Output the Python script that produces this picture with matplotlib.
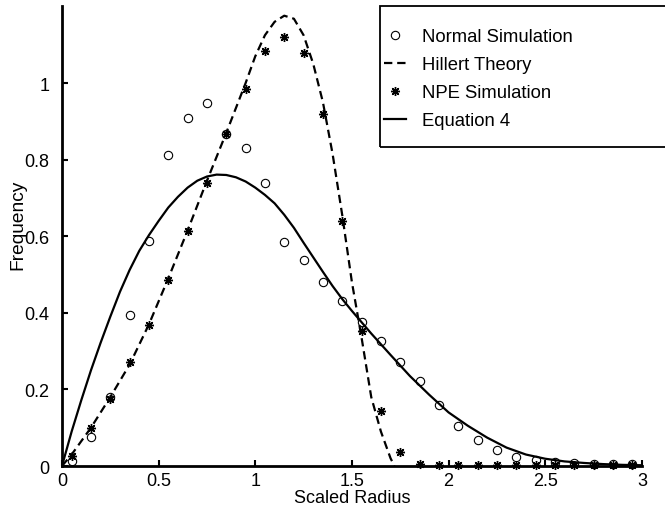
import matplotlib
matplotlib.use('Agg')
import matplotlib.pyplot as plt
from matplotlib.patches import Rectangle

plt.rcParams['font.family'] = ['Liberation Sans', 'DejaVu Sans']
plt.rcParams['lines.scale_dashes'] = False

# Normal Simulation (open circles)
normal_x = [0.05, 0.15, 0.25, 0.35, 0.45, 0.55, 0.65, 0.75, 0.85, 0.95,
            1.05, 1.15, 1.25, 1.35, 1.45, 1.55, 1.65, 1.75, 1.85, 1.95,
            2.05, 2.15, 2.25, 2.35, 2.45, 2.55, 2.65, 2.75, 2.85, 2.95]
normal_y = [0.014, 0.075, 0.18, 0.395, 0.588, 0.813, 0.909, 0.947, 0.867, 0.83,
            0.74, 0.585, 0.538, 0.481, 0.432, 0.377, 0.326, 0.272, 0.222, 0.159,
            0.105, 0.069, 0.042, 0.023, 0.016, 0.011, 0.008, 0.006, 0.005, 0.004]

# NPE Simulation (asterisks)
npe_x = normal_x
npe_y = [0.025, 0.099, 0.175, 0.271, 0.368, 0.486, 0.614, 0.74, 0.867, 0.984,
         1.083, 1.121, 1.078, 0.919, 0.64, 0.353, 0.144, 0.037, 0.006, 0.003,
         0.003, 0.003, 0.003, 0.003, 0.003, 0.003, 0.003, 0.003, 0.003, 0.003]

# Hillert Theory (dashed)
hillert_x = [0.0, 0.05, 0.15, 0.25, 0.35, 0.45, 0.55, 0.65, 0.75, 0.85, 0.95,
             1.0, 1.05, 1.1, 1.15, 1.2, 1.25, 1.3, 1.35, 1.4, 1.45, 1.5,
             1.55, 1.6, 1.65, 1.7, 1.72]
hillert_y = [0.0, 0.03, 0.1, 0.18, 0.265, 0.37, 0.49, 0.615, 0.745, 0.87, 1.0,
             1.07, 1.125, 1.16, 1.176, 1.168, 1.125, 1.05, 0.95, 0.815, 0.655, 0.48,
             0.335, 0.18, 0.09, 0.02, 0.0]

# Equation 4 (solid)
eq4_x = [0.0, 0.05, 0.1, 0.15, 0.2, 0.25, 0.3, 0.35, 0.4, 0.45, 0.5,
         0.55, 0.6, 0.65, 0.7, 0.75, 0.8, 0.85, 0.9, 0.95, 1.0,
         1.05, 1.1, 1.15, 1.2, 1.25, 1.3, 1.35, 1.4, 1.45, 1.5,
         1.6, 1.7, 1.8, 1.9, 2.0, 2.1, 2.2, 2.3, 2.4, 2.5,
         2.6, 2.7, 2.8, 2.9, 3.0]
eq4_y = [0.0, 0.09, 0.172, 0.25, 0.322, 0.39, 0.455, 0.512, 0.562, 0.603, 0.64,
         0.675, 0.703, 0.727, 0.745, 0.756, 0.761, 0.76, 0.754, 0.743, 0.727,
         0.708, 0.686, 0.656, 0.622, 0.583, 0.545, 0.507, 0.47, 0.436, 0.405,
         0.346, 0.29, 0.235, 0.186, 0.14, 0.105, 0.074, 0.048, 0.03, 0.019,
         0.012, 0.008, 0.005, 0.003, 0.002]

x_ticks = [0, 0.5, 1, 1.5, 2, 2.5, 3]
x_ticklabels = ['0', '0.5', '1', '1.5', '2', '2.5', '3']
y_ticks = [0, 0.2, 0.4, 0.6, 0.8, 1.0]
y_ticklabels = ['0', '0.2', '0.4', '0.6', '0.8', '1']

fig = plt.figure(figsize=(6.65, 5.10), dpi=100)
ax = fig.add_axes([0.0932, 0.0843, 0.872, 0.901])

ax.plot(normal_x, normal_y, linestyle='none', marker='o', markersize=6,
        markerfacecolor='none', markeredgecolor='black', markeredgewidth=0.8,
        label='Normal Simulation', clip_on=False)
ax.plot(hillert_x, hillert_y, color='black', linewidth=1.6, dashes=(6, 3.5),
        label='Hillert Theory')
ax.plot(npe_x, npe_y, linestyle='none', marker=(8, 2, 0), markersize=6.5,
        markeredgecolor='black', markeredgewidth=1.0, color='black',
        label='NPE Simulation', clip_on=False)
ax.plot(eq4_x, eq4_y, color='black', linewidth=1.6, label='Equation 4')

ax.set_xlim(0, 3)
ax.set_ylim(0, 1.2)
ax.set_xticks(x_ticks)
ax.set_xticklabels(x_ticklabels)
ax.set_yticks(y_ticks)
ax.set_yticklabels(y_ticklabels)
ax.spines['top'].set_visible(False)
ax.spines['right'].set_visible(False)
ax.spines['left'].set_linewidth(2.0)
ax.spines['bottom'].set_linewidth(2.0)
ax.tick_params(axis='both', direction='in', length=4, width=1.5, labelsize=13)
ax.tick_params(axis='y', pad=9)
ax.tick_params(axis='x', pad=4)
ax.set_xlabel('Scaled Radius', fontsize=13)
ax.set_ylabel('Frequency', fontsize=13.8)
ax.xaxis.set_label_coords(0.5, -0.050)
ax.yaxis.set_label_coords(-0.062, 0.527)

leg = ax.legend(loc='upper left', bbox_to_anchor=(0.577, 0.943),
                bbox_transform=fig.transFigure, frameon=False, fontsize=13.3,
                borderpad=0, handlelength=1.2, handletextpad=0.9,
                labelspacing=0.6, borderaxespad=0)
fig.add_artist(Rectangle((0.571, 0.710), 0.44, 0.2765, transform=fig.transFigure,
                         fill=False, edgecolor='black', linewidth=1.3))

fig.savefig('out.png', dpi=100)
